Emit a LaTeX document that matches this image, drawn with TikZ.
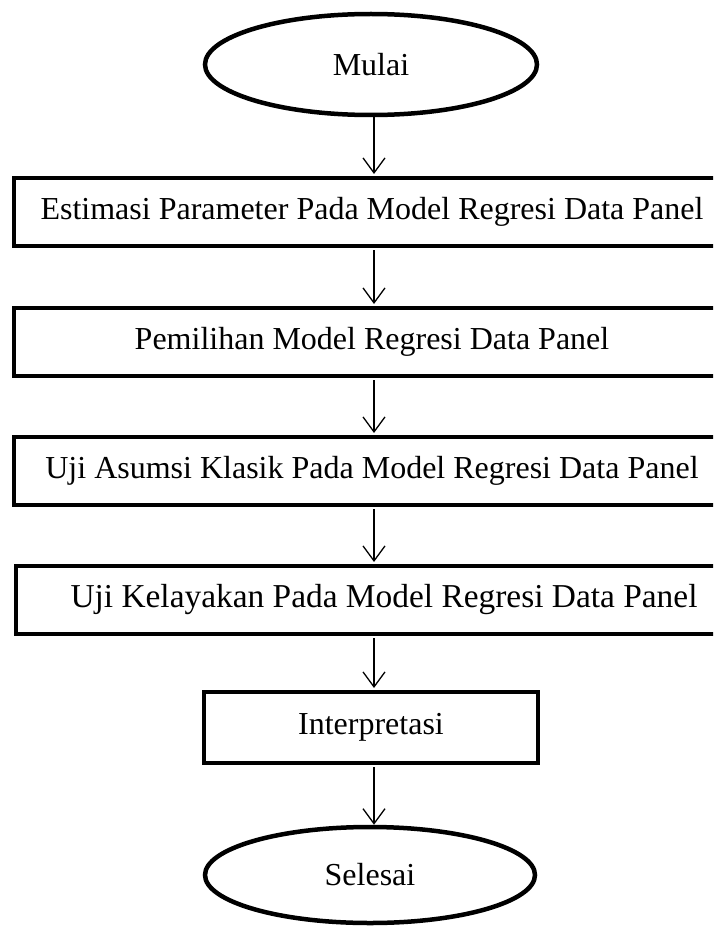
\documentclass[tikz,border=0pt]{standalone}
\usepackage{fontspec}
\setmainfont{Liberation Serif}
\usetikzlibrary{shapes.geometric,arrows.meta}
\begin{document}
\begin{tikzpicture}[x=1pt,y=-1pt,
  every node/.style={font=\fontsize{32}{37}\selectfont, inner sep=0pt},
  term/.style={ellipse, draw, line width=4.5pt, minimum width=332pt, minimum height=101pt},
  proc/.style={rectangle, draw, line width=4pt, minimum width=716pt, minimum height=68pt},
  small/.style={rectangle, draw, line width=4pt, minimum width=334pt, minimum height=71pt},
  arr/.style={line width=1.3pt, -{Straight Barb[length=15pt,width=22pt,line width=1.3pt]}}]
\useasboundingbox (0,0) rectangle (713,928);
\clip (0,0) rectangle (713,928);
\node[term] (start) at (371,64.5) {Mulai};
\node[proc] (b1) at (372,212) {Estimasi Parameter Pada Model Regresi Data Panel};
\node[proc] (b2) at (372,342) {Pemilihan Model Regresi Data Panel};
\node[proc] (b3) at (372,471) {Uji Asumsi Klasik Pada Model Regresi Data Panel};
\node[proc, minimum width=736pt, font=\fontsize{33.4}{38}\selectfont] (b4) at (384,600) {Uji Kelayakan Pada Model Regresi Data Panel};
\node[small] (b5) at (371,727.5) {Interpretasi};
\node[term, minimum width=330pt, minimum height=96pt] (end) at (370,875) {Selesai};
\coordinate (ax) at (374,0);
\draw[arr] (start.south -| ax) -- ([yshift=2pt]b1.north -| ax);
\draw[arr] ([yshift=-2pt]b1.south -| ax) -- ([yshift=2pt]b2.north -| ax);
\draw[arr] ([yshift=-2pt]b2.south -| ax) -- ([yshift=2pt]b3.north -| ax);
\draw[arr] ([yshift=-2pt]b3.south -| ax) -- ([yshift=2pt]b4.north -| ax);
\draw[arr] ([yshift=-2pt]b4.south -| ax) -- ([yshift=2pt]b5.north -| ax);
\draw[arr] ([yshift=-2pt]b5.south -| ax) -- (end.north -| ax);
\end{tikzpicture}
\end{document}
